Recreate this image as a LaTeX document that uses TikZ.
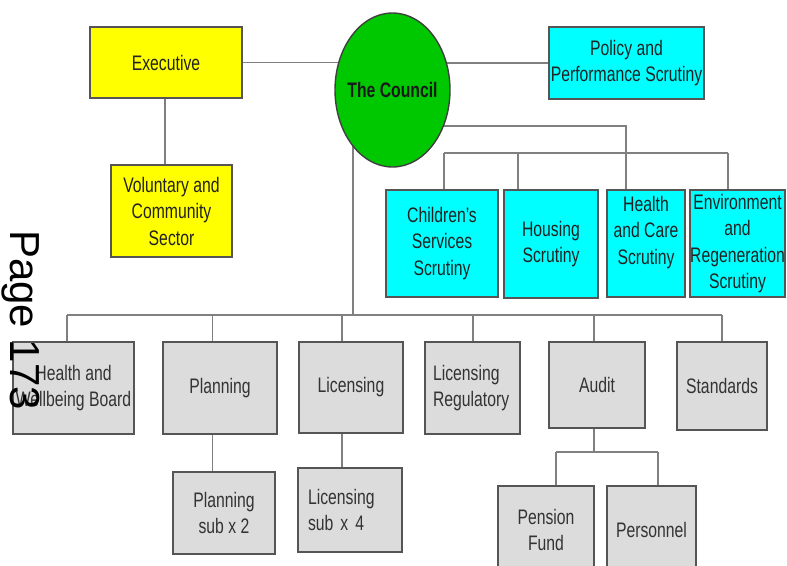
\documentclass[tikz,border=0pt]{standalone}
\usepackage{fontspec}
\setmainfont{Liberation Sans}[FakeStretch=0.75]
\newfontfamily\pagefont{Liberation Sans}
\usetikzlibrary{shapes.geometric,backgrounds}
\definecolor{cyanbox}{HTML}{00FFFF}
\definecolor{yellowbox}{HTML}{FFFF00}
\definecolor{councilgreen}{HTML}{00C800}
\definecolor{greybox}{HTML}{DCDCDC}
\definecolor{boxline}{HTML}{555555}
\definecolor{connline}{HTML}{808080}
\definecolor{txt}{HTML}{222222}
\tikzset{
  x=1pt, y=-1pt,
  box/.style={draw=boxline, line width=1.4pt, inner sep=0pt, align=center,
    font=\fontsize{21}{26.5}\selectfont, text=txt, rectangle},
  ybox/.style={box, fill=yellowbox},
  cbox/.style={box, fill=cyanbox},
  gbox/.style={box, fill=greybox, text=black!80},
  conn/.style={draw=connline, line width=1.5pt},
}
\begin{document}
\begin{tikzpicture}
\useasboundingbox (0,0) rectangle (787,565);
\clip (0,0) rectangle (787,565);
% top nodes
\node[ybox, minimum width=152pt, minimum height=71pt] (exec) at (166,62.5) {Executive};
\node[ybox, minimum width=121pt, minimum height=92pt] (vol) at (171.5,211) {Voluntary and\\Community\\Sector};
\node[ellipse, draw=black!75, line width=1.4pt, fill=councilgreen, minimum width=115pt, minimum height=154pt, inner sep=0pt,
  font=\bfseries\fontsize{21}{24}\selectfont, text=black!90] (council) at (392.5,90) {\makebox[0pt]{The Council}};
\node[cbox, minimum width=155pt, minimum height=72pt] (policy) at (626.5,63) {Policy and\\Performance Scrutiny};
% scrutiny
\node[cbox, minimum width=112pt, minimum height=107pt] (cs) at (442,243.5) {Children's\\Services\\Scrutiny};
\node[cbox, minimum width=94pt, minimum height=108pt] (hs) at (551,244) {Housing\\Scrutiny};
\node[cbox, minimum width=78pt, minimum height=107pt] (hc) at (646,243.5) {Health\\and Care\\Scrutiny\\\mbox{}};
\node[cbox, minimum width=95pt, minimum height=107pt] (env) at (737.5,243.5) {Environment\\and\\Regeneration\\Scrutiny};
% committees
\node[gbox, minimum width=121pt, minimum height=92pt] (hwb) at (73.5,388) {Health and\\Wellbeing Board};
\node[gbox, minimum width=114pt, minimum height=92pt] (plan) at (220,388) {Planning};
\node[gbox, minimum width=104pt, minimum height=91pt] (lic) at (351,387.5) {Licensing};
\node[gbox, minimum width=95pt, minimum height=92pt, text width=79pt, align=left] (lr) at (472.5,388) {Licensing\\Regulatory};
\node[gbox, minimum width=96pt, minimum height=86pt] (audit) at (597,385) {Audit};
\node[gbox, minimum width=90pt, minimum height=88pt] (std) at (722,386) {Standards};
\node[gbox, minimum width=102pt, minimum height=82pt] (plansub) at (224,513) {Planning\\sub x 2};
\node[gbox, minimum width=104pt, minimum height=84pt, text width=84pt, align=left] (licsub) at (350,510) {Licensing\\sub x 4};
\node[gbox, minimum width=96pt, minimum height=88pt] (pension) at (546,530) {Pension\\Fund};
\node[gbox, minimum width=89pt, minimum height=88pt] (personnel) at (651.5,530) {Personnel};
% junction coordinates
\coordinate (cj) at (392.5,126);
\coordinate (d1) at (444,153);
\coordinate (d2) at (518,153);
\coordinate (d3) at (626,153);
\coordinate (d4) at (728,153);
\coordinate (mv) at (353,140);
\coordinate (bm) at (353,315);
\coordinate (b1) at (67,315);
\coordinate (b2) at (212.5,315);
\coordinate (b3) at (342,315);
\coordinate (b4) at (473,315);
\coordinate (b5) at (594,315);
\coordinate (b6) at (722,315);
\coordinate (a0) at (594,452);
\coordinate (a1) at (556,452);
\coordinate (a2) at (658,452);
\begin{pgfonlayer}{background}
\fill[white] (0,0) rectangle (787,565);
\draw[conn] (exec.east) -- (exec.east -| council.center);
\draw[conn] (policy.west) -- (policy.west -| council.center);
\draw[conn] (exec.south -| 165,0) -- (165,0 |- vol.north);
\draw[conn] (cj) -| (d3 |- hc.north);
\draw[conn] (d1) -- (d4);
\draw[conn] (d1) -- (d1 |- cs.north);
\draw[conn] (d2) -- (d2 |- hs.north);
\draw[conn] (d4) -- (d4 |- env.north);
\draw[conn] (mv) -- (bm);
\draw[conn] (b1) -- (b6);
\draw[conn] (b1) -- (b1 |- hwb.north);
\draw[conn] (b2) -- (b2 |- plan.north);
\draw[conn] (b3) -- (b3 |- lic.north);
\draw[conn] (b4) -- (b4 |- lr.north);
\draw[conn] (b5) -- (b5 |- audit.north);
\draw[conn] (b6) -- (b6 |- std.north);
\draw[conn] (plan.south -| b2) -- (b2 |- plansub.north);
\draw[conn] (lic.south -| b3) -- (b3 |- licsub.north);
\draw[conn] (audit.south -| a0) -- (a0);
\draw[conn] (a1) -- (a2);
\draw[conn] (a1) -- (a1 |- pension.north);
\draw[conn] (a2) -- (a2 |- personnel.north);
\end{pgfonlayer}
% page label
\node[rotate=-90, anchor=base west, inner sep=0pt, font=\pagefont\fontsize{42}{42}\selectfont, text=black] (pagelabel) at (10,230) {Page 173};
\end{tikzpicture}
\end{document}
